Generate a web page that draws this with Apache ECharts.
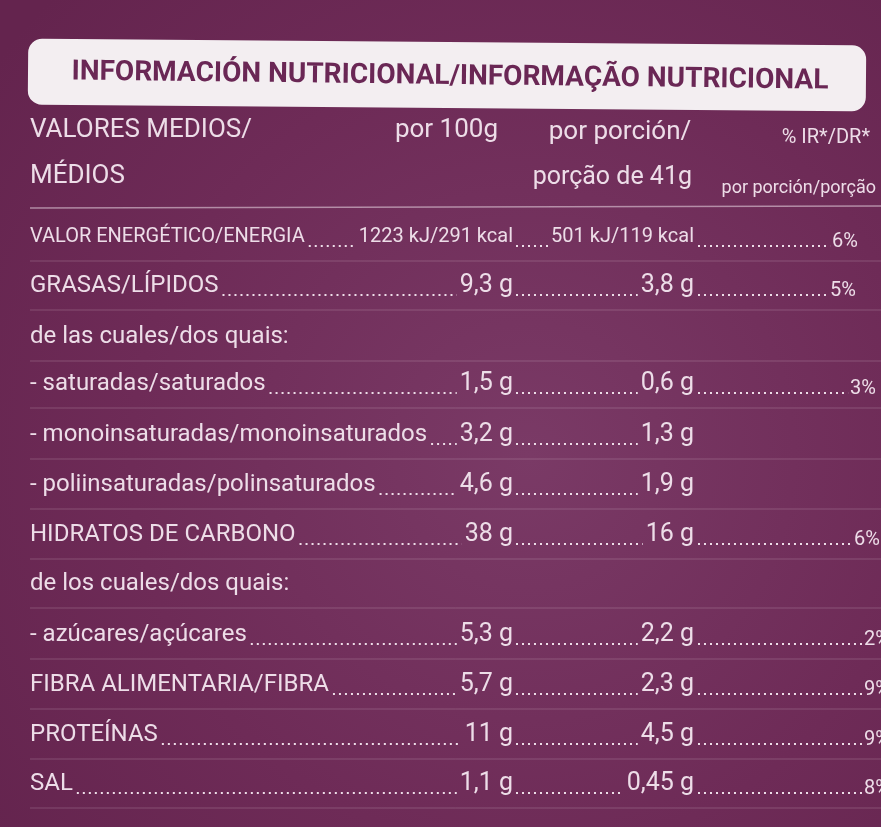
<!DOCTYPE html>
<html><head><meta charset="utf-8">
<script src="https://cdn.jsdelivr.net/npm/echarts@6/dist/echarts.min.js"></script>
<style>html,body{margin:0;padding:0;background:#6d2a55}#c{width:881px;height:827px}</style>
</head><body><div id="c"></div>
<script>
const title = "INFORMACIÓN NUTRICIONAL/INFORMAÇÃO NUTRICIONAL";
const headers = ["VALORES MEDIOS/", "MÉDIOS", "por 100g", "por porción/", "porção de 41g", "% IR*/DR*", "por porción/porção"];
const labels = ["VALOR ENERGÉTICO/ENERGIA", "GRASAS/LÍPIDOS", "de las cuales/dos quais:", "- saturadas/saturados", "- monoinsaturadas/monoinsaturados", "- poliinsaturadas/polinsaturados", "HIDRATOS DE CARBONO", "de los cuales/dos quais:", "- azúcares/açúcares", "FIBRA ALIMENTARIA/FIBRA", "PROTEÍNAS", "SAL"];
const per100 = ["1223 kJ/291 kcal", "9,3 g", "", "1,5 g", "3,2 g", "4,6 g", "38 g", "", "5,3 g", "5,7 g", "11 g", "1,1 g"];
const perPortion = ["501 kJ/119 kcal", "3,8 g", "", "0,6 g", "1,3 g", "1,9 g", "16 g", "", "2,2 g", "2,3 g", "4,5 g", "0,45 g"];
const pctIR = ["6%", "5%", "", "3%", "", "", "6%", "", "2%", "9%", "9%", "8%"];

const FONT = "'Liberation Sans Narrow','Roboto','DejaVu Sans Condensed',sans-serif";
const TXT = '#eddde8';
const ctx = document.createElement('canvas').getContext('2d');
function tw(s, size){ ctx.font = size + 'px ' + FONT; return ctx.measureText(s).width; }

const rowY = [237, 286, 337, 384, 435, 485, 535, 584, 635, 685, 735, 784];
const pctRight = [858, 856, 876, 876, 876, 876, 880, 880, 890, 890, 890, 890];
const X100 = 513, XPOR = 694, XL = 30;
const g = [];
function text(s, x, y, size, align, extra){
  g.push({type:'text', x:x, y:y, style:Object.assign({text:s, font:size+'px '+FONT, fill:TXT, textAlign:align||'left', textVerticalAlign:'middle'}, extra||{})});
}
function dots(x1, x2, y){
  if (x2 - x1 < 4) return;
  g.push({type:'line', shape:{x1:x1, y1:y, x2:x2, y2:y}, style:{stroke:TXT, lineWidth:2, lineDash:[2,4]}});
}
g.push({type:'rect', shape:{x:28, y:42, width:838, height:66, r:14}, rotation:-0.008, originX:447, originY:75, style:{fill:'#f3eef1'}});
g.push({type:'text', x:450, y:77, rotation:-0.012, style:{text:title, font:'bold 28px '+FONT, fill:'#6a2755', textAlign:'center', textVerticalAlign:'middle'}});
text(headers[0], XL, 130, 26); text(headers[1], XL, 176, 26);
text(headers[2], 498, 130, 26, 'right'); text(headers[3], 620, 132, 26, 'center');
text(headers[4], 692, 178, 25, 'right'); text(headers[5], 870, 138, 20, 'right');
text(headers[6], 876, 188, 18, 'right');
g.push({type:'line', shape:{x1:30, y1:208, x2:881, y2:206}, style:{stroke:'rgba(237,221,232,0.55)', lineWidth:1.5}});
labels.forEach((l, i) => {
  const y = rowY[i];
  const size = i === 0 ? 20 : 24;
  const vsize = i === 0 ? 20 : 25;
  text(l, XL, y, size);
  g.push({type:'line', shape:{x1:30, y1:y+24, x2:881, y2:y+24}, style:{stroke:'rgba(237,221,232,0.22)', lineWidth:1}});
  if (!per100[i]) return;
  const lw = tw(l, size) + XL + 4;
  const w1 = tw(per100[i], vsize);
  text(per100[i], X100, y, vsize, 'right');
  dots(lw, X100 - w1 - 3, y + 9);
  const w2 = tw(perPortion[i], vsize);
  text(perPortion[i], XPOR, y, vsize, 'right');
  dots(X100 + 3, XPOR - w2 - 3, y + 9);
  if (pctIR[i]) {
    const pr = pctRight[i];
    const w3 = tw(pctIR[i], 20);
    text(pctIR[i], pr, y + 5, 20, 'right');
    dots(XPOR + 4, pr - w3 - 2, y + 9);
  }
});
const chart = echarts.init(document.getElementById('c'));
chart.setOption({
  backgroundColor: {type:'radial', x:0.6, y:0.55, r:0.8, colorStops:[{offset:0,color:'#7a3a66'},{offset:0.6,color:'#6e2b57'},{offset:1,color:'#64244e'}]},
  graphic: g
});
</script></body></html>
